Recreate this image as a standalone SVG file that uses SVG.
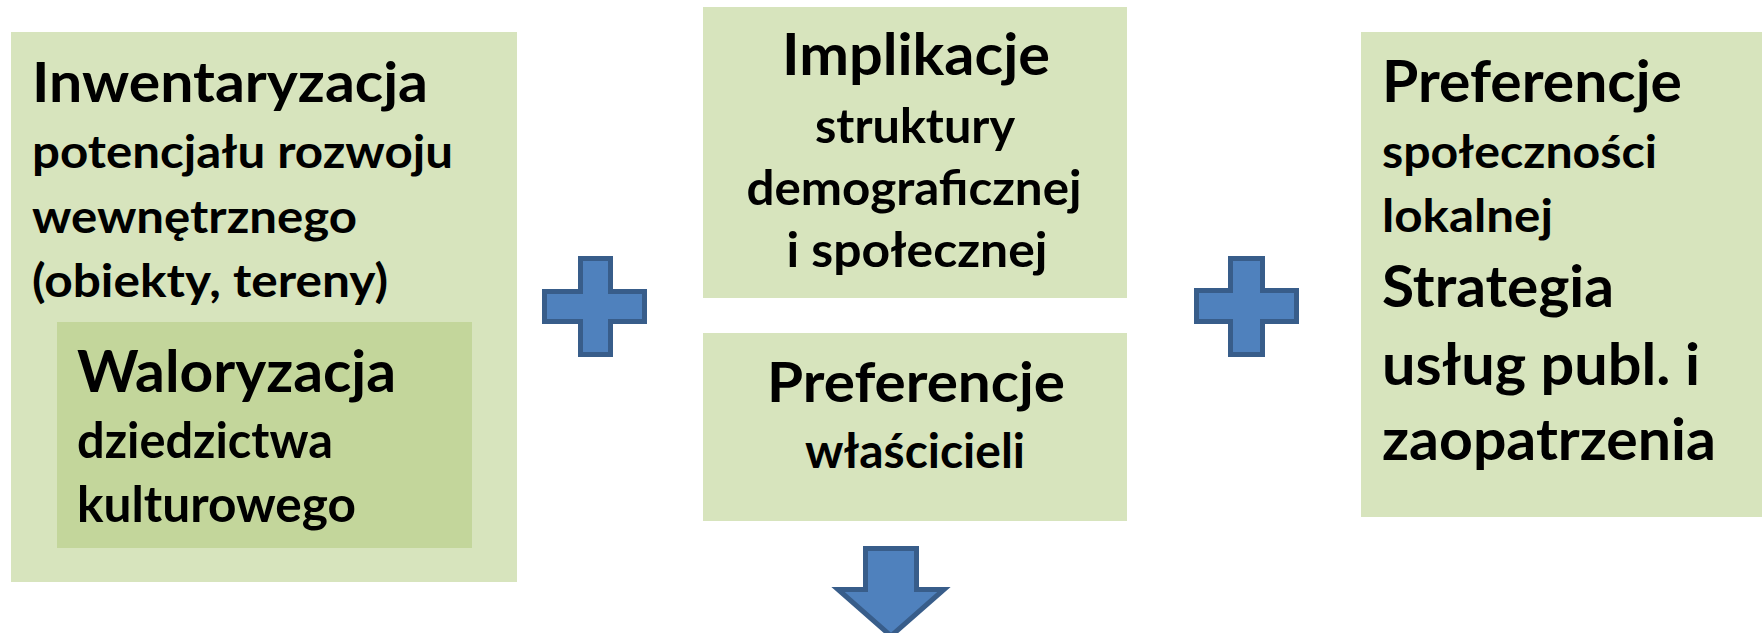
<svg xmlns="http://www.w3.org/2000/svg" width="1762" height="633" viewBox="0 0 1762 633">
<style>
.box{fill:#d7e4bd}
.inner{fill:#c3d69b}
.sym{fill:#4f81bd;stroke:#385d8a;stroke-width:5;stroke-linejoin:miter}
text{font-family:Lato,"Open Sans","Liberation Sans",sans-serif;font-weight:bold;fill:#000}
.c{text-anchor:middle}
</style>
<rect width="1762" height="633" fill="#fff"/>
<g id="inwentaryzacja">
<rect class="box" x="11" y="32" width="506" height="550"/>
<text x="32" y="102" font-size="56" textLength="396" lengthAdjust="spacingAndGlyphs">Inwentaryzacja</text>
<text x="32" y="168" font-size="46" textLength="421" lengthAdjust="spacingAndGlyphs">potencjału rozwoju</text>
<text x="32" y="233" font-size="46" textLength="325" lengthAdjust="spacingAndGlyphs">wewnętrznego</text>
<text x="32" y="297" font-size="46" textLength="356" lengthAdjust="spacingAndGlyphs">(obiekty, tereny)</text>
</g>
<g id="waloryzacja">
<rect class="inner" x="57" y="322" width="415" height="226"/>
<text x="77" y="392" font-size="58" textLength="319" lengthAdjust="spacingAndGlyphs">Waloryzacja</text>
<text x="77" y="458" font-size="49" textLength="256" lengthAdjust="spacingAndGlyphs">dziedzictwa</text>
<text x="77" y="522" font-size="49" textLength="279" lengthAdjust="spacingAndGlyphs">kulturowego</text>
</g>
<g id="implikacje">
<rect class="box" x="703" y="7" width="424" height="291"/>
<text class="c" x="916" y="75" font-size="58" textLength="268" lengthAdjust="spacingAndGlyphs">Implikacje</text>
<text class="c" x="915" y="143" font-size="48" textLength="200" lengthAdjust="spacingAndGlyphs">struktury</text>
<text class="c" x="914" y="205" font-size="48" textLength="335" lengthAdjust="spacingAndGlyphs">demograficznej</text>
<text class="c" x="917" y="267" font-size="48" textLength="261" lengthAdjust="spacingAndGlyphs">i społecznej</text>
</g>
<g id="preferencje-wlascicieli">
<rect class="box" x="703" y="333" width="424" height="188"/>
<text class="c" x="916" y="402" font-size="56" textLength="298" lengthAdjust="spacingAndGlyphs">Preferencje</text>
<text class="c" x="915" y="468" font-size="48" textLength="220" lengthAdjust="spacingAndGlyphs">właścicieli</text>
</g>
<g id="preferencje-spolecznosci">
<rect class="box" x="1361" y="32" width="401" height="485"/>
<text x="1382" y="102" font-size="58" textLength="300" lengthAdjust="spacingAndGlyphs">Preferencje</text>
<text x="1382" y="168" font-size="46" textLength="275" lengthAdjust="spacingAndGlyphs">społeczności</text>
<text x="1382" y="232" font-size="46" textLength="171" lengthAdjust="spacingAndGlyphs">lokalnej</text>
<text x="1382" y="307" font-size="58" textLength="232" lengthAdjust="spacingAndGlyphs">Strategia</text>
<text x="1382" y="385" font-size="58" textLength="318" lengthAdjust="spacingAndGlyphs">usług publ. i</text>
<text x="1382" y="460" font-size="58" textLength="334" lengthAdjust="spacingAndGlyphs">zaopatrzenia</text>
</g>
<g id="connectors">
<path id="plus1" class="sym" d="M580.5,258.5 H610.5 V291.5 H644.5 V321.5 H610.5 V354.5 H580.5 V321.5 H544.5 V291.5 H580.5 Z"/>
<path id="plus2" class="sym" d="M1230.5,258.5 H1262.5 V290.5 H1296.5 V321.5 H1262.5 V354.5 H1230.5 V321.5 H1196.5 V290.5 H1230.5 Z"/>
<path id="down-arrow" class="sym" d="M865.5,548.5 H916.5 V589.5 H944 L891,636 L838,589.5 H865.5 Z"/>
</g>
</svg>
